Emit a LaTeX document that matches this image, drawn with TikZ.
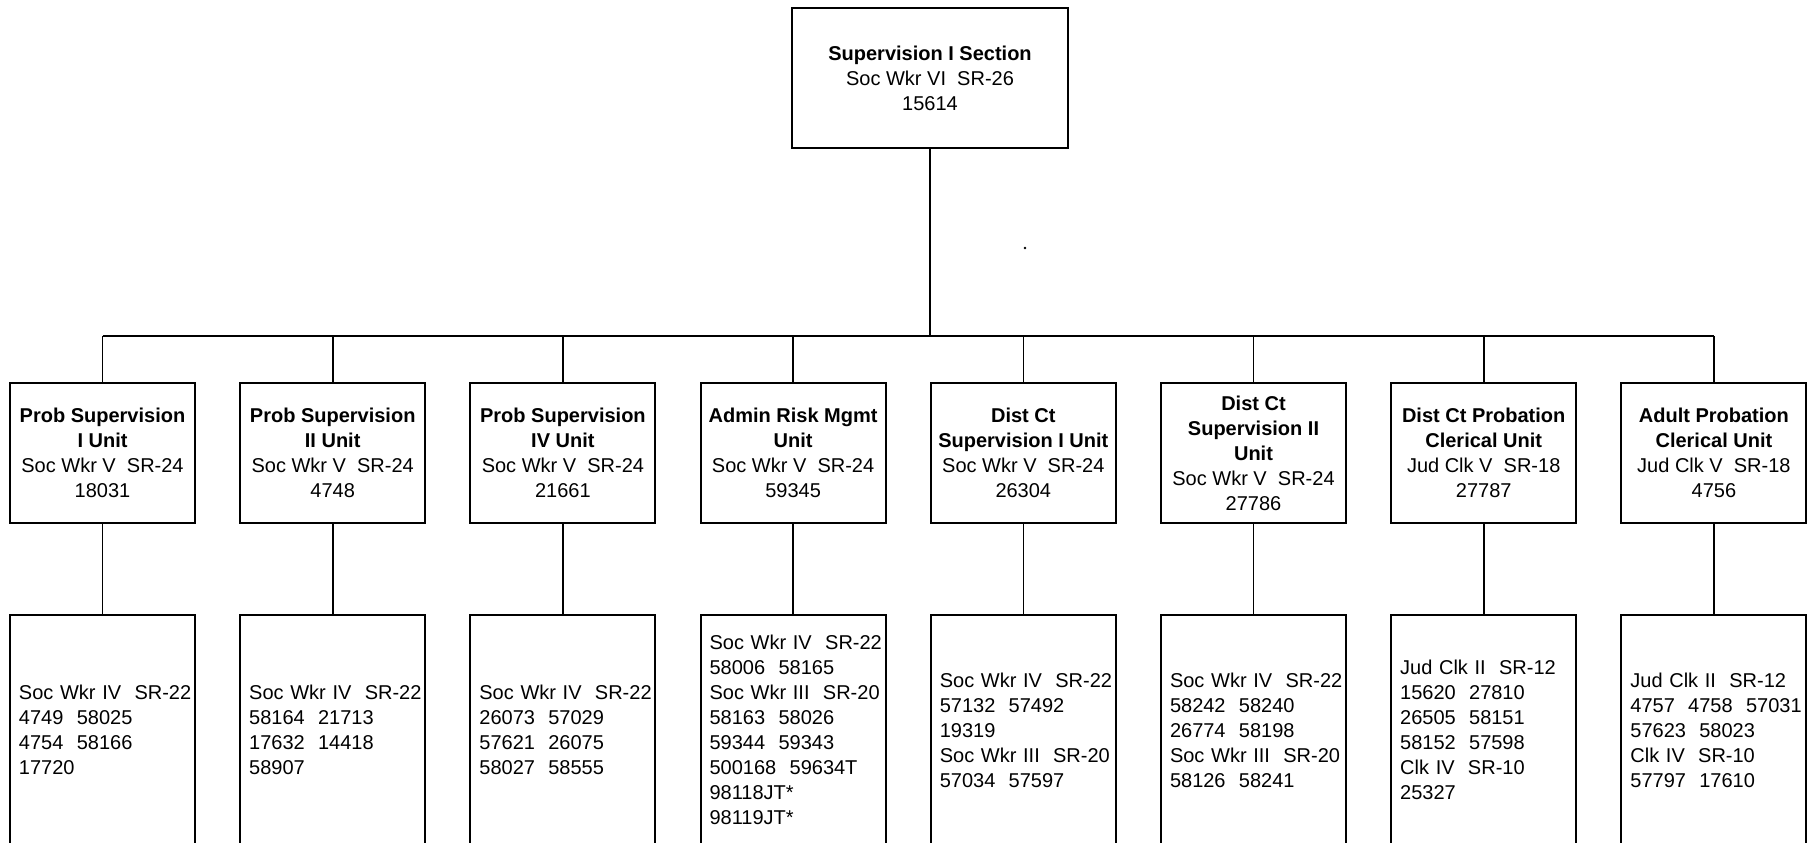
\documentclass[tikz,border=0pt]{standalone}
\usepackage{fontspec}
\setmainfont{Liberation Sans}
\exhyphenpenalty=10000\relax
\hyphenpenalty=10000\relax
\begin{document}
\begin{tikzpicture}[x=1pt,y=-1pt,
  orgbox/.style={draw, line width=2pt, inner sep=0pt, font=\fontsize{20}{25}\selectfont},
  topbox/.style={orgbox, minimum width=276pt, minimum height=140pt, align=center},
  unitbox/.style={orgbox, minimum width=185pt, minimum height=140pt, align=center},
  staffbox/.style={orgbox, minimum width=185pt, minimum height=230pt, inner xsep=9pt, text width=167pt, align=left},
  link/.style={line width=1.6pt}]
\useasboundingbox (0,0) rectangle (1810,843);

% top
\node[topbox] (top) at (930,78) {\textbf{Supervision I Section}\\Soc Wkr VI~~SR-26\\15614};

% units
\node[unitbox] (u1) at (102.5,453) {\textbf{Prob Supervision}\\\textbf{I Unit}\\Soc Wkr V~~SR-24\\18031};
\node[unitbox] (u2) at (332.7,453) {\textbf{Prob Supervision}\\\textbf{II Unit}\\Soc Wkr V~~SR-24\\4748};
\node[unitbox] (u3) at (562.9,453) {\textbf{Prob Supervision}\\\textbf{IV Unit}\\Soc Wkr V~~SR-24\\21661};
\node[unitbox] (u4) at (793.1,453) {\textbf{Admin Risk Mgmt}\\\textbf{Unit}\\Soc Wkr V~~SR-24\\59345};
\node[unitbox] (u5) at (1023.3,453) {\textbf{Dist Ct}\\\textbf{Supervision I Unit}\\Soc Wkr V~~SR-24\\26304};
\node[unitbox] (u6) at (1253.5,453) {\textbf{Dist Ct}\\\textbf{Supervision II}\\\textbf{Unit}\\Soc Wkr V~~SR-24\\27786};
\node[unitbox] (u7) at (1483.7,453) {\textbf{Dist Ct Probation}\\\textbf{Clerical Unit}\\Jud Clk V~~SR-18\\27787};
\node[unitbox] (u8) at (1713.9,453) {\textbf{Adult Probation}\\\textbf{Clerical Unit}\\Jud Clk V~~SR-18\\4756};

% staff
\node[staffbox] (s1) at (102.5,730) {\mbox{Soc Wkr IV~~SR-22}\\4749~~58025\\4754~~58166\\17720};
\node[staffbox] (s2) at (332.7,730) {\mbox{Soc Wkr IV~~SR-22}\\58164~~21713\\17632~~14418\\58907};
\node[staffbox] (s3) at (562.9,730) {\mbox{Soc Wkr IV~~SR-22}\\26073~~57029\\57621~~26075\\58027~~58555};
\node[staffbox] (s4) at (793.1,730) {\mbox{Soc Wkr IV~~SR-22}\\58006~~58165\\\mbox{Soc Wkr III~~SR-20}\\58163~~58026\\59344~~59343\\500168~~59634T\\98118JT*\\98119JT*};
\node[staffbox] (s5) at (1023.3,730) {\mbox{Soc Wkr IV~~SR-22}\\57132~~57492\\19319\\\mbox{Soc Wkr III~~SR-20}\\57034~~57597};
\node[staffbox] (s6) at (1253.5,730) {\mbox{Soc Wkr IV~~SR-22}\\58242~~58240\\26774~~58198\\\mbox{Soc Wkr III~~SR-20}\\58126~~58241};
\node[staffbox] (s7) at (1483.7,730) {\mbox{Jud Clk II~~SR-12}\\15620~~27810\\26505~~58151\\58152~~57598\\\mbox{Clk IV~~SR-10}\\25327};
\node[staffbox] (s8) at (1713.9,730) {\mbox{Jud Clk II~~SR-12}\\\mbox{4757~~4758~~57031}\\57623~~58023\\\mbox{Clk IV~~SR-10}\\57797~~17610};

% connectors
\coordinate (bus) at (930,336);
\draw[link] (top.south) -- (bus);
\draw[link] (u1.north |- bus) -- (u8.north |- bus);
\foreach \i in {1,...,8}{
  \draw[link] (u\i.north) -- (u\i.north |- bus);
  \draw[link] (u\i.south) -- (s\i.north);
}
% stray speck
\fill (1025,248) circle (1.3pt);
\end{tikzpicture}
\end{document}
